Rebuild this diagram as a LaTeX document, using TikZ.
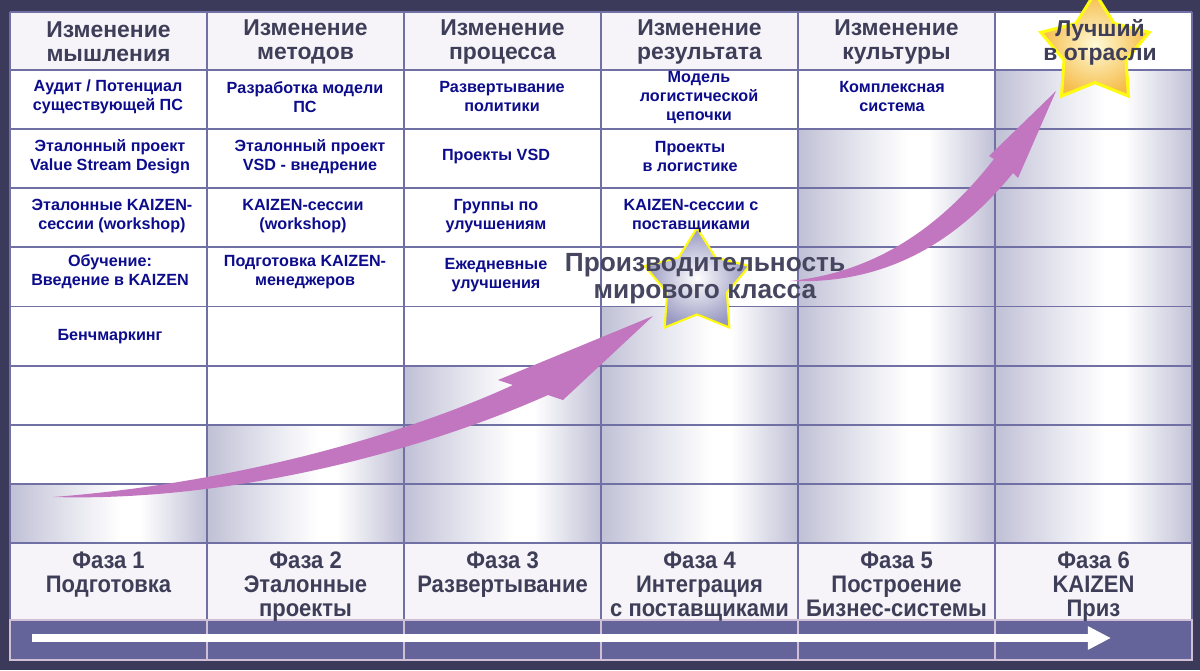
\documentclass[tikz,border=0pt]{standalone}
\usepackage{fontspec}
\setmainfont{Liberation Sans}
\newfontfamily\narrowfont{Liberation Sans}[FakeStretch=0.92]
\usetikzlibrary{shapes.geometric,arrows.meta}

\definecolor{framecol}{RGB}{60,58,90}
\definecolor{gridcol}{RGB}{112,112,164}
\definecolor{headfill}{RGB}{246,244,249}
\definecolor{hdcol}{RGB}{62,62,88}
\definecolor{navycol}{RGB}{12,12,140}
\definecolor{bigcol}{RGB}{70,70,96}
\definecolor{bandcol}{RGB}{100,99,154}
\definecolor{bandline}{RGB}{208,192,214}
\definecolor{arrowcol}{RGB}{195,118,192}
\definecolor{shadecol}{RGB}{192,192,214}
\definecolor{shademid}{RGB}{228,228,238}
\definecolor{starlav}{RGB}{150,150,192}
\definecolor{staryel}{RGB}{255,250,20}
\definecolor{starcream}{RGB}{255,250,215}
\definecolor{stargold}{RGB}{245,188,72}

\pgfdeclarehorizontalshading{metalshade}{100bp}{color(0bp)=(shadecol); color(25bp)=(shadecol); color(40bp)=(shademid); color(53bp)=(white); color(58bp)=(white); color(75bp)=(shadecol); color(100bp)=(shadecol)}

\tikzset{
  hdtext/.style={font=\bfseries\fontsize{16.3}{17}\selectfont, text=hdcol, align=center, inner sep=0pt},
  celltext/.style={font=\bfseries\fontsize{11.5}{13.5}\selectfont, text=navycol, align=center, inner sep=0pt},
  phasetext/.style={font=\narrowfont\bfseries\fontsize{17}{16.8}\selectfont, text=hdcol, align=center, anchor=north, inner sep=0pt},
  bigtext/.style={font=\bfseries\fontsize{18.7}{19}\selectfont, text=bigcol, align=center, inner sep=0pt},
  gridline/.style={draw=gridcol, line width=1.3pt},
  starbox/.style={star, star points=5, star point ratio=1.75, inner sep=0pt}
}

\begin{document}
\begin{tikzpicture}[x=0.025cm,y=-0.025cm]
  \pgfmathsetmacro{\colw}{197}
  \pgfmathsetmacro{\rowh}{59.125}

  % frame
  \useasboundingbox (0,0) rectangle (1200,670);
  \fill[framecol] (0,0) rectangle (1200,670);

  % header and phase rows
  \fill[headfill] (10,12) rectangle (994,70);
  \fill[white] (994,12) rectangle (1192,70);
  \fill[white] (10,70) rectangle (1192,543);
  \fill[headfill] (10,543) rectangle (1192,620);

  % shaded cells (staircase)
  \foreach \ci/\si in {1/8,2/7,3/6,4/5,5/2,6/1}
    \foreach \ri in {\si,...,8}
      \shade[shading=metalshade] ({10+\colw*(\ci-1)},{70+\rowh*(\ri-1)}) rectangle ({10+\colw*\ci},{70+\rowh*\ri});

  % grid
  \draw[gridline] (10,12) -- (1192,12);
  \foreach \ri in {0,...,8}
    \draw[gridline] (10,{70+\rowh*\ri}) -- (1192,{70+\rowh*\ri});
  \foreach \ci in {0,...,6}
    \draw[gridline] ({10+\colw*\ci},12) -- ({10+\colw*\ci},620);

  % band
  \fill[bandcol] (10,620) rectangle (1192,660);
  \foreach \ci in {1,...,5}
    \draw[bandline, line width=1pt] ({10+\colw*\ci},620) -- ({10+\colw*\ci},660);
  \draw[bandline, line width=1pt] (10,620) rectangle (1192,660);

  % time arrow
  \coordinate (t0) at (32,638);
  \coordinate (t1) at (1111,638);
  \draw[white, line width=5.7pt, -{Triangle[length=16.4pt,width=15.6pt]}] (t0) -- (t1);

  % growth arrows
  \fill[arrowcol] (53,497) .. controls (250,482) and (420,428) .. (513,385)
    -- (498,380) -- (653,316) -- (563,400) -- (548,395)
    .. controls (420,452) and (230,502) .. (53,497) -- cycle;
  \fill[arrowcol] (790,281) .. controls (880,272) and (945,222) .. (994,159)
    -- (989,156) -- (1056,91) -- (1018,178) -- (1013,173)
    .. controls (960,238) and (890,285) .. (790,281) -- cycle;

  % stars
  \node[starbox, minimum size=2.75cm, inner color=white, outer color=starlav, draw=staryel, line width=1.5pt] (wcstar) at (697,283) {};
  \node[starbox, minimum size=2.85cm, inner color=starcream, outer color=stargold, draw=staryel, line width=2.2pt] (beststar) at (1095,50) {};

  % headers
  \foreach \ci/\txt in {1/мышления,2/методов,3/процесса,4/результата,5/культуры}
    \node[hdtext] (h\ci) at ({10+\colw*(\ci-0.5)},42) {Изменение\\\txt};
  \node[hdtext] (h6) at (1100,42) {Лучший\\в отрасли};

  % cell texts
  \node[celltext] (a1) at (108,97) {Аудит / Потенциал\\существующей ПС};
  \node[celltext] (a2) at (305,97) {Разработка модели\\ПС};
  \node[celltext] (a3) at (502,97) {Развертывание\\политики};
  \node[celltext] (a4) at (699,98) {Модель\\логистической\\цепочки};
  \node[celltext] (a5) at (892,97) {Комплексная\\система};
  \node[celltext] (b1) at (110,157) {Эталонный проект\\Value Stream Design};
  \node[celltext] (b2) at (310,157) {Эталонный проект\\VSD - внедрение};
  \node[celltext] (b3) at (496,157) {Проекты VSD};
  \node[celltext] (b4) at (690,157) {Проекты\\в логистике};
  \node[celltext] (c1) at (112,216) {Эталонные KAIZEN-\\сессии (workshop)};
  \node[celltext] (c2) at (303,216) {KAIZEN-сессии\\(workshop)};
  \node[celltext] (c3) at (496,216) {Группы по\\улучшениям};
  \node[celltext] (c4) at (691,216) {KAIZEN-сессии с\\поставщиками};
  \node[celltext] (d1) at (110,272) {Обучение:\\Введение в KAIZEN};
  \node[celltext] (d2) at (305,272) {Подготовка KAIZEN-\\менеджеров};
  \node[celltext] (d3) at (496,275) {Ежедневные\\улучшения};
  \node[celltext] (e1) at (110,337) {Бенчмаркинг};

  % world class label
  \node[bigtext] (wclabel) at (705,279) {Производительность\\мирового класса};

  % phases
  \foreach \ci/\txt in {1/{Фаза 1\\Подготовка},2/{Фаза 2\\Эталонные\\проекты},3/{Фаза 3\\Развертывание},
      4/{Фаза 4\\Интеграция\\с поставщиками},5/{Фаза 5\\Построение\\Бизнес-системы},6/{Фаза 6\\KAIZEN\\Приз}}
    \node[phasetext] (p\ci) at ({10+\colw*(\ci-0.5)},552) {\txt};
\end{tikzpicture}
\end{document}
